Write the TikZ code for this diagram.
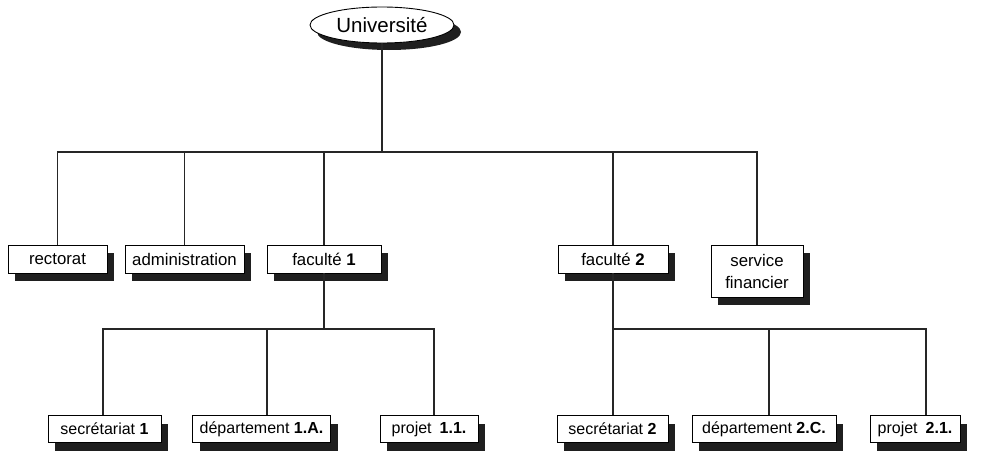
\documentclass[tikz,border=0pt]{standalone}
\usepackage{fontspec}
\setmainfont{Liberation Sans}
\usetikzlibrary{shadows,shapes.geometric}
\begin{document}
\begin{tikzpicture}[x=1pt,y=-1pt,
  shad/.style={drop shadow={shadow xshift=7pt, shadow yshift=-8pt, fill=black!88, opacity=1}},
  box/.style={draw=black, line width=0.9pt, fill=white, inner sep=0pt, minimum height=27pt,
    font=\fontsize{16}{18}\selectfont, shad},
  topbox/.style={box, minimum height=28pt, font=\fontsize{16.8}{19}\selectfont},
  conn/.style={line width=1.1pt, draw=black!85}]
\useasboundingbox (0,0) rectangle (981,455);
\fill[white] (0,0) rectangle (981,455);

% root
\node[ellipse, draw=black, line width=0.9pt, fill=white, minimum width=144pt, minimum height=36pt,
  inner sep=0pt, font=\fontsize{20.5}{23}\selectfont,
  drop shadow={shadow xshift=7pt, shadow yshift=-7pt, fill=black!88, opacity=1}]
  (univ) at (382,25) {Université};

% first level
\node[topbox, minimum width=99pt] (rect) at (57.5,259) {rectorat};
\node[topbox, minimum width=119pt] (admin) at (184.5,259) {administration};
\node[topbox, minimum width=114pt] (fac1) at (324,259) {faculté \textbf{1}};
\node[topbox, minimum width=110pt] (fac2) at (613,259) {faculté \textbf{2}};
\node[topbox, minimum width=92pt, minimum height=52pt, align=center, font=\fontsize{16.8}{22}\selectfont] (serv) at (757,271) {service\\financier};

% second level
\node[box, minimum width=113pt] (sec1) at (104.5,429) {secrétariat \textbf{1}};
\node[box, minimum width=138pt] (dep1) at (261.5,429) {département \textbf{1.A.}};
\node[box, minimum width=98pt] (proj1) at (429,429) {projet\enspace\textbf{1.1.}};
\node[box, minimum width=111pt] (sec2) at (612.5,429) {secrétariat \textbf{2}};
\node[box, minimum width=144pt] (dep2) at (764,429) {département \textbf{2.C.}};
\node[box, minimum width=90pt] (proj2) at (915,429) {projet\enspace\textbf{2.1.}};

% connectors
\coordinate (b0) at (382,152);
\coordinate (b1) at (324,329);
\coordinate (b2) at (613,329);
\draw[conn] (univ.south) -- (b0);
\draw[conn] (rect.north) |- (b0) -| (serv.north);
\draw[conn] (admin.north) -- (admin.north |- b0);
\draw[conn] (fac1.north) -- (fac1.north |- b0);
\draw[conn] (fac2.north) -- (fac2.north |- b0);

\draw[conn] (fac1.south) -- (b1);
\draw[conn] ([xshift=-1.5pt]sec1.north) |- (b1) -| ([xshift=5pt]proj1.north);
\draw[conn] ([xshift=5.5pt]dep1.north) -- ([xshift=5.5pt]dep1.north |- b1);

\draw[conn] (fac2.south) -- (b2);
\draw[conn] ([xshift=0.5pt]sec2.north) |- (b2) -| ([xshift=11pt]proj2.north);
\draw[conn] ([xshift=5pt]dep2.north) -- ([xshift=5pt]dep2.north |- b2);
\end{tikzpicture}
\end{document}
